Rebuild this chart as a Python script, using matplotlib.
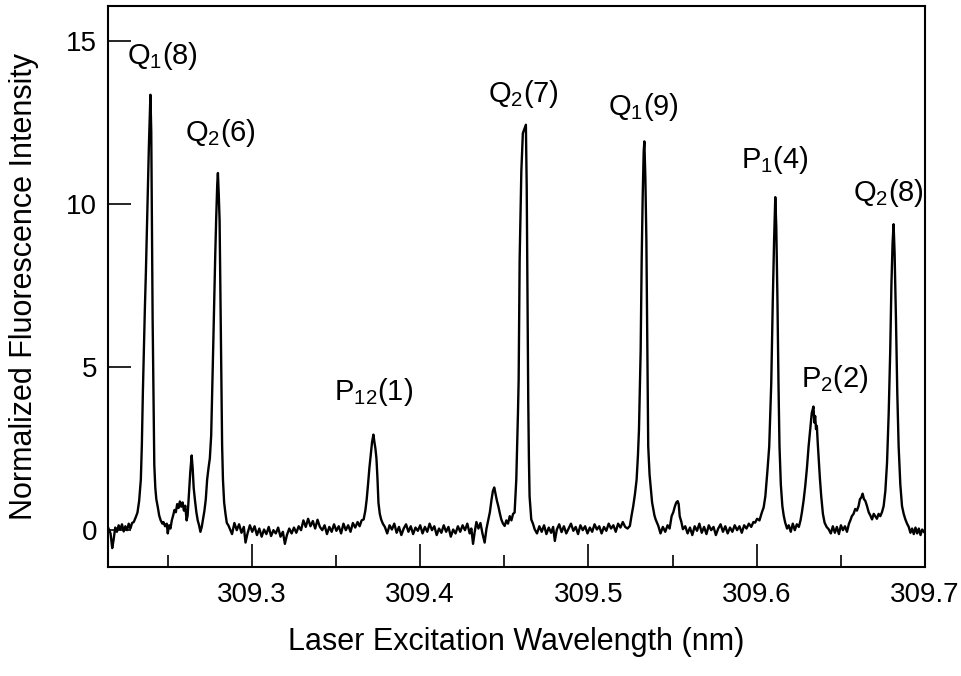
import matplotlib
matplotlib.use("Agg")
import matplotlib.pyplot as plt
from matplotlib.ticker import MultipleLocator

plt.rcParams['font.family'] = ['Liberation Sans', 'DejaVu Sans']
plt.rcParams['mathtext.fontset'] = 'custom'
plt.rcParams['mathtext.rm'] = 'Liberation Sans'
plt.rcParams['mathtext.it'] = 'Liberation Sans:italic'
plt.rcParams['mathtext.bf'] = 'Liberation Sans:bold'

# scan: wavelength (nm) and normalized intensity
wavelength = [
    309.2148, 309.2160, 309.2170, 309.2178, 309.2188, 309.2198, 309.2208, 309.2218, 309.2228, 309.2238,
    309.2248, 309.2258, 309.2268, 309.2278, 309.2288,
    # Q1(8)
    309.2298, 309.2310, 309.2320, 309.2330, 309.2340, 309.2346, 309.2352, 309.2358, 309.2364, 309.2370,
    309.2376, 309.2382, 309.2388, 309.2394, 309.2397, 309.2402, 309.2406, 309.2410, 309.2415, 309.2420,
    309.2426, 309.2432, 309.2441, 309.2449, 309.2458, 309.2468,
    # shoulder, small line, Q2(6)
    309.2474, 309.2484, 309.2494, 309.2500, 309.2508, 309.2516, 309.2524, 309.2532, 309.2540, 309.2548,
    309.2556, 309.2564, 309.2572, 309.2580, 309.2588, 309.2596, 309.2604, 309.2612, 309.2618, 309.2626,
    309.2634, 309.2642, 309.2648, 309.2654, 309.2662, 309.2670, 309.2678, 309.2686, 309.2694, 309.2702,
    309.2710, 309.2718, 309.2726, 309.2734, 309.2742, 309.2750, 309.2758, 309.2764, 309.2770, 309.2776,
    309.2782, 309.2788, 309.2794, 309.2798, 309.2803, 309.2808, 309.2813, 309.2818, 309.2823, 309.2828,
    309.2835, 309.2843, 309.2851, 309.2860,
    # baseline
    309.2868, 309.2882, 309.2896, 309.2910, 309.2924, 309.2938, 309.2952, 309.2962, 309.2974, 309.2988,
    309.3002, 309.3016, 309.3030, 309.3044, 309.3058, 309.3072, 309.3086, 309.3100, 309.3114, 309.3128,
    309.3142, 309.3156, 309.3170, 309.3184, 309.3196, 309.3208, 309.3222, 309.3236, 309.3250, 309.3264,
    309.3278, 309.3292, 309.3306, 309.3320, 309.3334, 309.3348, 309.3362, 309.3376, 309.3390, 309.3404,
    309.3418, 309.3432, 309.3446, 309.3460, 309.3474, 309.3488, 309.3502, 309.3516, 309.3530, 309.3544,
    309.3558, 309.3572, 309.3586, 309.3600, 309.3614, 309.3628, 309.3640,
    # P12(1)
    309.3652, 309.3664, 309.3674, 309.3682, 309.3690, 309.3698, 309.3706, 309.3714, 309.3722, 309.3728,
    309.3734, 309.3740, 309.3746, 309.3752, 309.3760, 309.3768, 309.3778,
    # baseline
    309.3790, 309.3804, 309.3818, 309.3832, 309.3846, 309.3860, 309.3874, 309.3888, 309.3902, 309.3916,
    309.3930, 309.3944, 309.3958, 309.3972, 309.3986, 309.4000, 309.4014, 309.4028, 309.4042, 309.4056,
    309.4070, 309.4084, 309.4098, 309.4112, 309.4126, 309.4140, 309.4154, 309.4168, 309.4182, 309.4196,
    309.4210, 309.4224, 309.4238, 309.4252, 309.4266, 309.4280, 309.4294, 309.4304, 309.4314, 309.4324,
    309.4334, 309.4346, 309.4358, 309.4370, 309.4383, 309.4394, 309.4404,
    # small line + Q2(7)
    309.4414, 309.4424, 309.4432, 309.4440, 309.4448, 309.4456, 309.4464, 309.4474, 309.4482, 309.4492,
    309.4502, 309.4512, 309.4522, 309.4532, 309.4542, 309.4552, 309.4561, 309.4571, 309.4581, 309.4585,
    309.4591, 309.4601, 309.4610, 309.4619, 309.4628, 309.4633, 309.4638, 309.4642, 309.4646, 309.4650,
    309.4660, 309.4670, 309.4680,
    # baseline
    309.4694, 309.4708, 309.4722, 309.4736, 309.4750, 309.4764, 309.4778, 309.4790, 309.4800, 309.4812,
    309.4826, 309.4840, 309.4854, 309.4868, 309.4882, 309.4896, 309.4910, 309.4924, 309.4938, 309.4952,
    309.4966, 309.4980, 309.4994, 309.5008, 309.5022, 309.5036, 309.5050, 309.5064, 309.5078, 309.5092,
    309.5106, 309.5120, 309.5134, 309.5148, 309.5162, 309.5176, 309.5190, 309.5204, 309.5218, 309.5232,
    # Q1(9)
    309.5246, 309.5256, 309.5266, 309.5276, 309.5286, 309.5294, 309.5300, 309.5310, 309.5316, 309.5322,
    309.5328, 309.5332, 309.5338, 309.5344, 309.5350, 309.5355, 309.5363, 309.5371, 309.5378, 309.5385,
    309.5392, 309.5399, 309.5415,
    # small line
    309.5428, 309.5442, 309.5456, 309.5470, 309.5482, 309.5494, 309.5504, 309.5514, 309.5522, 309.5530,
    309.5536, 309.5542, 309.5552, 309.5561,
    # baseline
    309.5575, 309.5589, 309.5603, 309.5617, 309.5631, 309.5645, 309.5659, 309.5673, 309.5687, 309.5701,
    309.5715, 309.5729, 309.5743, 309.5757, 309.5771, 309.5785, 309.5799, 309.5813, 309.5827, 309.5841,
    309.5855, 309.5869, 309.5883, 309.5897, 309.5911, 309.5925, 309.5939, 309.5953, 309.5967, 309.5980,
    309.5990,
    # P1(4)
    309.6002, 309.6016, 309.6030, 309.6041, 309.6051, 309.6063, 309.6074, 309.6086, 309.6095, 309.6103,
    309.6110, 309.6116, 309.6123, 309.6129, 309.6135, 309.6143, 309.6152, 309.6160, 309.6169,
    # baseline + P2(2)
    309.6180, 309.6190, 309.6202, 309.6214, 309.6226, 309.6238, 309.6250, 309.6260,
    309.6268, 309.6278, 309.6288, 309.6298, 309.6308, 309.6318, 309.6327, 309.6337, 309.6342, 309.6347,
    309.6352, 309.6357, 309.6362, 309.6367, 309.6375, 309.6383, 309.6393, 309.6403, 309.6415, 309.6427,
    # baseline + small line
    309.6440, 309.6452, 309.6464, 309.6476, 309.6488, 309.6500, 309.6512, 309.6524, 309.6536, 309.6548,
    309.6556, 309.6565, 309.6575, 309.6585, 309.6595, 309.6605, 309.6613, 309.6621, 309.6629, 309.6637,
    309.6645, 309.6655, 309.6665, 309.6675, 309.6685, 309.6695, 309.6704, 309.6714, 309.6724, 309.6734,
    309.6744, 309.6754, 309.6764,
    # Q2(8) + tail
    309.6774, 309.6784, 309.6793, 309.6800, 309.6807, 309.6813, 309.6819, 309.6827, 309.6835, 309.6843,
    309.6853, 309.6863, 309.6873, 309.6883, 309.6893, 309.6903, 309.6913, 309.6923, 309.6933, 309.6943,
    309.6953, 309.6963, 309.6973, 309.6983, 309.6993,
]

intensity = [
    0.05, -0.10, -0.55, -0.30, 0.08, -0.05, 0.15, 0.02, 0.18, -0.04,
    0.12, 0.00, 0.20, 0.05, 0.22,
    0.25, 0.40, 0.54, 0.90, 1.55, 2.60, 4.20, 5.50, 6.80, 7.90,
    9.20, 10.50, 11.80, 12.90, 13.35, 12.20, 9.50, 6.50, 4.20, 2.00,
    1.30, 0.95, 0.70, 0.45, 0.30, 0.20,
    0.25, 0.12, 0.20, -0.10, 0.15, 0.05, 0.30, 0.45, 0.62, 0.55,
    0.80, 0.68, 0.88, 0.72, 0.85, 0.60, 0.75, 0.30, 0.45, 1.10,
    1.80, 2.29, 1.90, 1.30, 0.90, 0.55, 0.30, 0.15, -0.05, 0.10,
    0.35, 0.60, 0.95, 1.55, 1.90, 2.20, 2.90, 4.20, 5.60, 7.00,
    8.40, 9.60, 10.60, 10.95, 10.30, 9.50, 7.20, 4.60, 2.60, 1.55,
    0.85, 0.50, 0.22, 0.15,
    0.05, -0.12, 0.22, 0.00, 0.18, -0.08, 0.10, -0.38, -0.10, 0.15,
    -0.05, 0.12, -0.15, 0.05, -0.20, 0.02, -0.12, 0.10, -0.18, 0.00,
    -0.10, 0.08, -0.20, -0.05, -0.42, -0.15, 0.05, -0.10, 0.08, -0.08,
    0.12, 0.00, 0.30, 0.10, 0.35, 0.12, 0.28, 0.05, 0.32, 0.10,
    0.00, 0.15, -0.12, 0.10, -0.05, 0.18, -0.02, 0.12, -0.10, 0.20,
    0.00, 0.15, -0.05, 0.22, 0.08, 0.25, 0.12,
    0.30, 0.33, 0.60, 0.94, 1.40, 1.90, 2.30, 2.70, 2.93, 2.70,
    2.50, 2.20, 1.60, 0.84, 0.50, 0.33, 0.20,
    0.10, -0.10, 0.15, 0.02, 0.20, -0.08, 0.10, -0.15, 0.05, 0.18,
    -0.05, 0.12, -0.12, 0.08, -0.02, 0.15, -0.10, 0.10, -0.05, 0.20,
    0.00, 0.12, -0.15, 0.05, -0.08, 0.15, -0.05, 0.10, -0.20, 0.02,
    -0.10, 0.12, -0.05, 0.15, 0.00, 0.20, -0.10, 0.05, -0.42, -0.05,
    0.25, 0.05, 0.22, -0.10, -0.38, 0.05, 0.30,
    0.55, 0.94, 1.20, 1.31, 1.10, 0.90, 0.74, 0.50, 0.33, 0.20,
    0.13, 0.30, 0.20, 0.43, 0.30, 0.50, 0.54, 1.55, 3.60, 4.60,
    8.30, 11.00, 12.17, 12.30, 12.43, 10.50, 7.00, 4.00, 2.20, 1.04,
    0.33, 0.20, 0.03,
    -0.10, 0.12, -0.05, 0.15, -0.12, 0.08, -0.08, 0.10, -0.33, 0.02,
    0.18, -0.06, 0.12, -0.10, 0.05, 0.20, -0.02, 0.10, -0.12, 0.15,
    0.00, 0.12, -0.10, 0.08, -0.05, 0.18, 0.02, 0.12, -0.10, 0.10,
    -0.02, 0.20, 0.05, 0.15, -0.05, 0.20, 0.08, 0.25, 0.10, 0.05,
    0.13, 0.45, 0.74, 1.10, 1.55, 2.30, 3.08, 5.50, 8.26, 10.20,
    11.60, 11.92, 10.80, 8.90, 5.50, 2.57, 1.70, 1.24, 0.85, 0.64,
    0.45, 0.33, 0.13,
    -0.10, 0.10, -0.05, 0.15, 0.05, 0.43, 0.55, 0.74, 0.85, 0.89,
    0.80, 0.43, 0.25, 0.03,
    0.12, -0.10, 0.08, -0.15, 0.12, -0.02, 0.20, -0.08, 0.10, -0.12,
    0.15, 0.00, 0.10, -0.15, 0.05, 0.18, -0.05, 0.12, -0.10, 0.08,
    -0.05, 0.15, 0.00, 0.12, -0.08, 0.15, 0.05, 0.20, 0.10, 0.25,
    0.23,
    0.35, 0.30, 0.54, 0.70, 1.04, 1.80, 2.57, 4.50, 7.00, 8.90,
    10.21, 9.30, 7.00, 4.50, 2.57, 1.40, 0.74, 0.45, 0.23,
    0.05, 0.15, -0.05, 0.20, 0.00, 0.18, 0.10, 0.30,
    0.54, 0.90, 1.35, 1.90, 2.57, 3.10, 3.60, 3.79, 3.30, 3.50,
    3.10, 3.20, 2.70, 2.27, 1.60, 1.04, 0.50, 0.23, 0.10, 0.03,
    -0.10, 0.12, -0.08, 0.10, -0.12, 0.15, 0.00, 0.12, -0.05, 0.20,
    0.30, 0.43, 0.50, 0.65, 0.60, 0.74, 0.95, 1.00, 1.12, 0.95,
    0.90, 0.74, 0.55, 0.45, 0.33, 0.50, 0.43, 0.35, 0.50, 0.43,
    0.55, 0.74, 1.20,
    2.06, 3.60, 5.50, 7.50, 8.80, 9.38, 8.50, 6.50, 4.20, 2.57,
    1.40, 0.74, 0.50, 0.33, 0.20, 0.10, -0.08, 0.05, -0.12, 0.08,
    -0.10, 0.05, -0.15, 0.02, -0.05,
]

# peak assignments and where their labels sit
line_names = [r'Q$_\mathregular{1}$(8)', r'Q$_\mathregular{2}$(6)', r'P$_\mathregular{12}$(1)',
              r'Q$_\mathregular{2}$(7)', r'Q$_\mathregular{1}$(9)', r'P$_\mathregular{1}$(4)',
              r'P$_\mathregular{2}$(2)', r'Q$_\mathregular{2}$(8)']
name_x = [309.2470, 309.2815, 309.3720, 309.4616, 309.5327, 309.6110, 309.6462, 309.6780]
name_y = [14.30, 11.92, 3.99, 13.14, 12.74, 11.10, 4.39, 10.09]

x_ticks = [309.3, 309.4, 309.5, 309.6, 309.7]
x_tick_labels = ['309.3', '309.4', '309.5', '309.6', '309.7']
y_ticks = [0, 5, 10, 15]
y_tick_labels = ['0', '5', '10', '15']

fig = plt.figure(figsize=(9.61, 6.76), dpi=100)
ax = fig.add_axes([0.1124, 0.1612, 0.8502, 0.8299])

ax.plot(wavelength, intensity, color='black', lw=1.7)

for name, x, y in zip(line_names, name_x, name_y):
    ax.text(x, y, name, ha='center', va='baseline', fontsize=21)

ax.set_xlim(309.2145, 309.7)
ax.set_ylim(-1.13, 16.07)
ax.set_xticks(x_ticks)
ax.set_xticklabels(x_tick_labels)
ax.xaxis.set_minor_locator(MultipleLocator(0.05))
ax.set_yticks(y_ticks)
ax.set_yticklabels(y_tick_labels)
ax.tick_params(which='major', direction='in', length=16.5, width=1.2, labelsize=20)
ax.tick_params(which='minor', direction='in', length=8.5, width=1.2)
ax.tick_params(axis='x', pad=11)
ax.tick_params(axis='y', pad=8)
for sp in ax.spines.values():
    sp.set_linewidth(1.5)

ax.set_xlabel('Laser Excitation Wavelength (nm)', fontsize=22)
ax.set_ylabel('Normalized Fluorescence Intensity', fontsize=22)
ax.xaxis.set_label_coords(0.5, -0.107)
ax.yaxis.set_label_coords(-0.0845, 0.5)

fig.savefig('out.png', dpi=100)
